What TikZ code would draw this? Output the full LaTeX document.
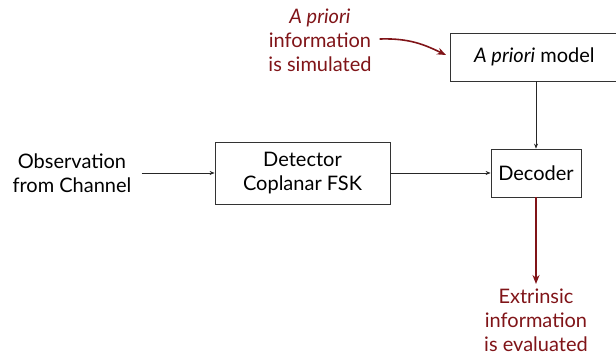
\documentclass[tikz,border=0pt]{standalone}
\usepackage{fontspec}
\setmainfont{Lato}
\usetikzlibrary{arrows.meta}
\definecolor{darkred}{RGB}{128,20,24}
\tikzset{
  every node/.style={font=\fontsize{20}{24}\selectfont, align=center, inner sep=0pt},
  block/.style={draw=black!80, line width=0.8pt, minimum height=#1, fill=white},
  note/.style={text=darkred},
  link/.style={draw=black!85, line width=0.7pt, -{Stealth[length=5pt,width=4pt]}},
  redlink/.style={draw=darkred, line width=1.6pt, -{Stealth[length=9pt,width=7pt]}}
}
\begin{document}
\begin{tikzpicture}[x=1pt,y=-1pt]
\useasboundingbox (0,0) rectangle (616,355);
\node[block=48pt, minimum width=168pt, anchor=west] (apm) at (450,57) {\textit{A priori} model};
\node[block=48pt, minimum width=90pt] (dec) at (536,173) {Decoder};
\node[block=62pt, minimum width=175pt] (det) at (302.5,173) {Detector\\Coplanar FSK};
\node (obs) at (72,173) {Observation\\from Channel};
\node[note] (apri) at (320,40) {\textit{A priori}\\information\\is simulated};
\node[note] (ext) at (536,320) {Extrinsic\\information\\is evaluated};
\coordinate (apmin) at (446,55);
\draw[link] (obs.east) ++(10,0) coordinate (obsout) -- (det.west);
\draw[link] (det.east) -- (dec.west);
\draw[link] (apm.south -| dec.north) -- (dec.north);
\draw[redlink] (dec.south) -- (536,284) coordinate (extin);
\draw[redlink] (apri.east) ++(8,-1) coordinate (aprout) .. controls (410,38) and (425,45) .. (apmin);
\end{tikzpicture}
\end{document}
